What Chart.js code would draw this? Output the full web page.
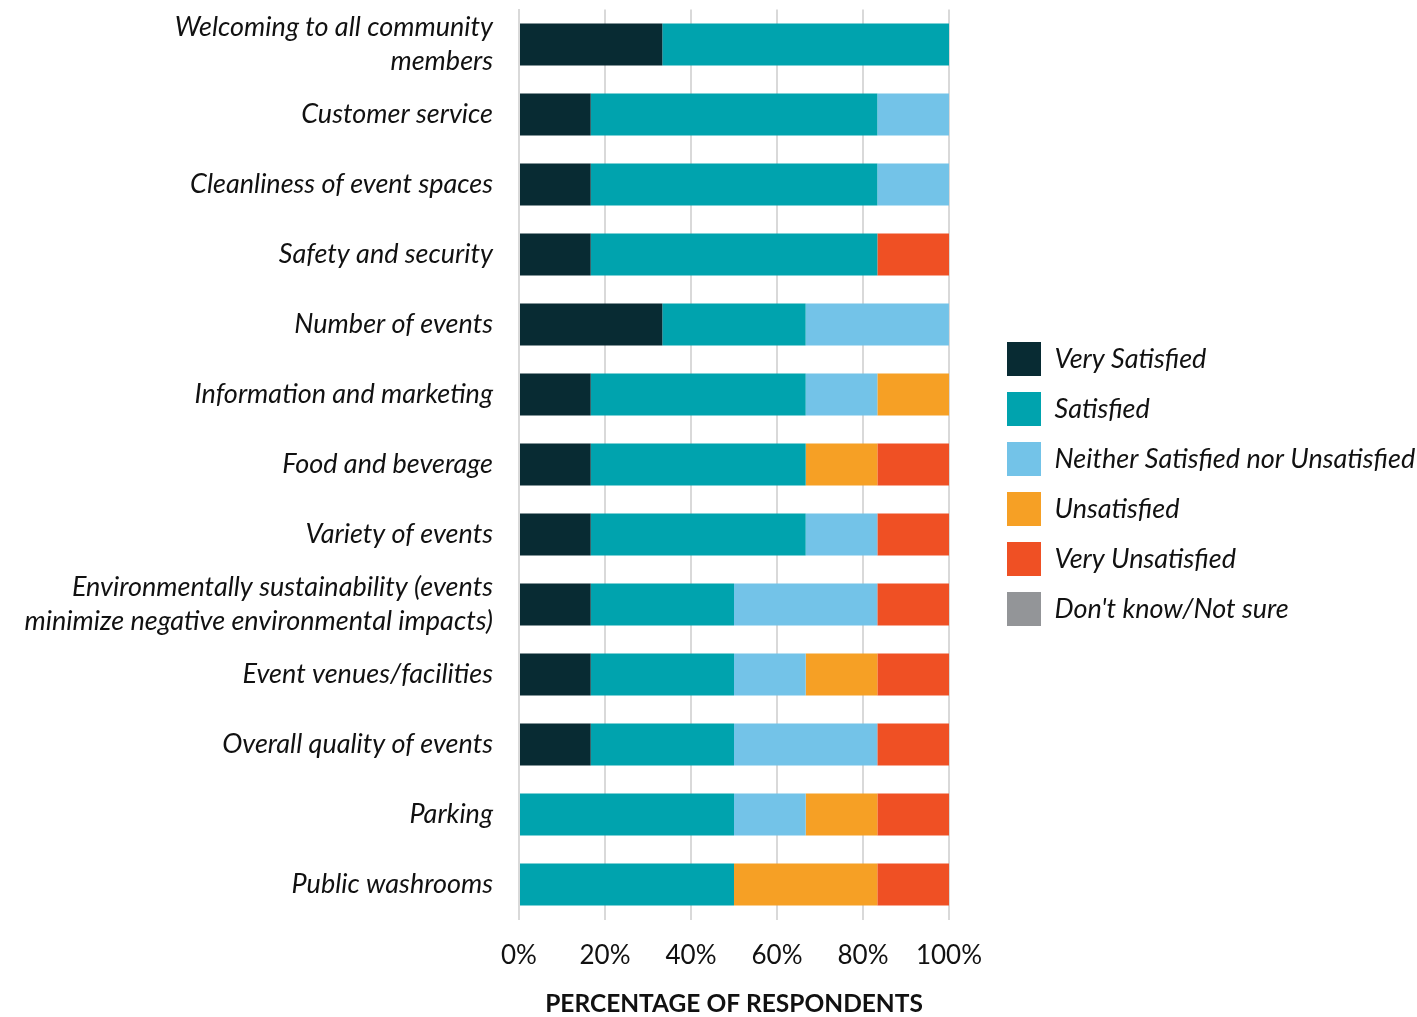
<!DOCTYPE html>
<html>
<head>
<meta charset="utf-8">
<script src="https://cdn.jsdelivr.net/npm/chart.js@4/dist/chart.umd.min.js"></script>
<style>
  html, body { margin: 0; padding: 0; background: #ffffff; }
  #wrap { width: 1417px; height: 1017px; position: relative; }
</style>
</head>
<body>
<div id="wrap"><canvas id="c" width="1417" height="1017"></canvas></div>
<script>
// ---- data ----
const categories = [
  ['Welcoming to all community', 'members'],
  'Customer service',
  'Cleanliness of event spaces',
  'Safety and security',
  'Number of events',
  'Information and marketing',
  'Food and beverage',
  'Variety of events',
  ['Environmentally sustainability (events', 'minimize negative environmental impacts)'],
  'Event venues/facilities',
  'Overall quality of events',
  'Parking',
  'Public washrooms'
];
const seriesNames = ['Very Satisfied', 'Satisfied', 'Neither Satisfied nor Unsatisfied', 'Unsatisfied', 'Very Unsatisfied', "Don't know/Not sure"];
const verySatisfied   = [33.33, 16.67, 16.67, 16.67, 33.33, 16.67, 16.67, 16.67, 16.67, 16.67, 16.67, 0, 0];
const satisfied       = [66.67, 66.67, 66.67, 66.67, 33.33, 50, 50, 50, 33.33, 33.33, 33.33, 50, 50];
const neither         = [0, 16.67, 16.67, 0, 33.33, 16.67, 0, 16.67, 33.33, 16.67, 33.33, 16.67, 0];
const unsatisfied     = [0, 0, 0, 0, 0, 16.67, 16.67, 0, 0, 16.67, 0, 16.67, 33.33];
const veryUnsatisfied = [0, 0, 0, 16.67, 0, 0, 16.67, 16.67, 16.67, 16.67, 16.67, 16.67, 16.67];
const dontKnow        = [0, 0, 0, 0, 0, 0, 0, 0, 0, 0, 0, 0, 0];
const xTicks = [0, 20, 40, 60, 80, 100];
const axisTitle = 'PERCENTAGE OF RESPONDENTS';

// ---- styles ----
const colors = ['#082b33', '#00a3ae', '#73c3e8', '#f6a025', '#ef5024', '#939598'];
const FONT = 'Lato';
const textColor = '#111111';
const labelFontSize = 27;

const seriesValues = [verySatisfied, satisfied, neither, unsatisfied, veryUnsatisfied, dontKnow];

// layout targets
const W = 1417, H = 1017;
const plotLeft = 519, plotRight = 949, plotTop = 9.5, plotBottom = 919.5;
const legendBoxX = 1007, legendFirstY = 342;
const legendPad = 16, legendBox = 34;

// measure legend width to place chart area right edge
const mctx = document.createElement('canvas').getContext('2d');
mctx.font = 'italic ' + labelFontSize + 'px ' + FONT;
const maxLegendText = Math.max(...seriesNames.map(n => mctx.measureText(n).width));
const legendWidth = legendPad + legendBox + labelFontSize / 2 + maxLegendText + 10;
const padRight = W - plotRight - legendWidth;

const placeLegend = {
  id: 'placeLegend',
  afterLayout(chart) {
    const lg = chart.legend;
    if (!lg) return;
    const w = lg.width, h = lg.height;
    lg.left = legendBoxX - legendPad;
    lg.right = lg.left + w;
    lg.top = legendFirstY - legendPad;
    lg.bottom = lg.top + h;
  }
};

new Chart(document.getElementById('c'), {
  type: 'bar',
  data: {
    labels: categories,
    datasets: seriesNames.map((name, i) => ({
      label: name,
      data: seriesValues[i],
      backgroundColor: colors[i],
      borderWidth: 0,
      categoryPercentage: 0.6,
      barPercentage: 1.0
    }))
  },
  options: {
    indexAxis: 'y',
    responsive: false,
    animation: false,
    layout: { padding: { left: 18, top: plotTop, right: padRight, bottom: 0 } },
    scales: {
      x: {
        stacked: true,
        min: 0, max: 100,
        afterBuildTicks(scale) { scale.ticks = xTicks.map(v => ({ value: v })); },
        afterFit(scale) {
          scale.height = H - plotBottom;
          scale.paddingLeft = 0; scale.paddingRight = 0;
        },
        ticks: {
          callback: v => v + '%',
          color: textColor,
          padding: 21,
          maxRotation: 0,
          autoSkip: false,
          font: { family: FONT, size: 26 }
        },
        grid: { color: '#d9d9d9', lineWidth: 2, drawTicks: false },
        border: { display: false },
        title: {
          display: true,
          text: axisTitle,
          color: textColor,
          font: { family: FONT, size: 24.5, weight: 'bold', lineHeight: 1.05 },
          padding: { top: 0, bottom: 0 }
        }
      },
      y: {
        stacked: true,
        afterFit(scale) {
          scale.width = plotLeft - 18;
          scale.paddingTop = 0; scale.paddingBottom = 0;
        },
        ticks: {
          color: textColor,
          padding: 26,
          autoSkip: false,
          font: { family: FONT, size: labelFontSize, style: 'italic', lineHeight: 1.26 }
        },
        grid: { display: false, drawTicks: false },
        border: { display: true, color: '#d9d9d9', width: 2 }
      }
    },
    plugins: {
      tooltip: { enabled: false },
      legend: {
        position: 'right',
        align: 'start',
        maxWidth: 800,
        labels: {
          boxWidth: legendBox,
          boxHeight: legendBox,
          padding: legendPad,
          color: textColor,
          font: { family: FONT, size: labelFontSize, style: 'italic' }
        }
      }
    }
  },
  plugins: [placeLegend]
});
</script>
</body>
</html>
